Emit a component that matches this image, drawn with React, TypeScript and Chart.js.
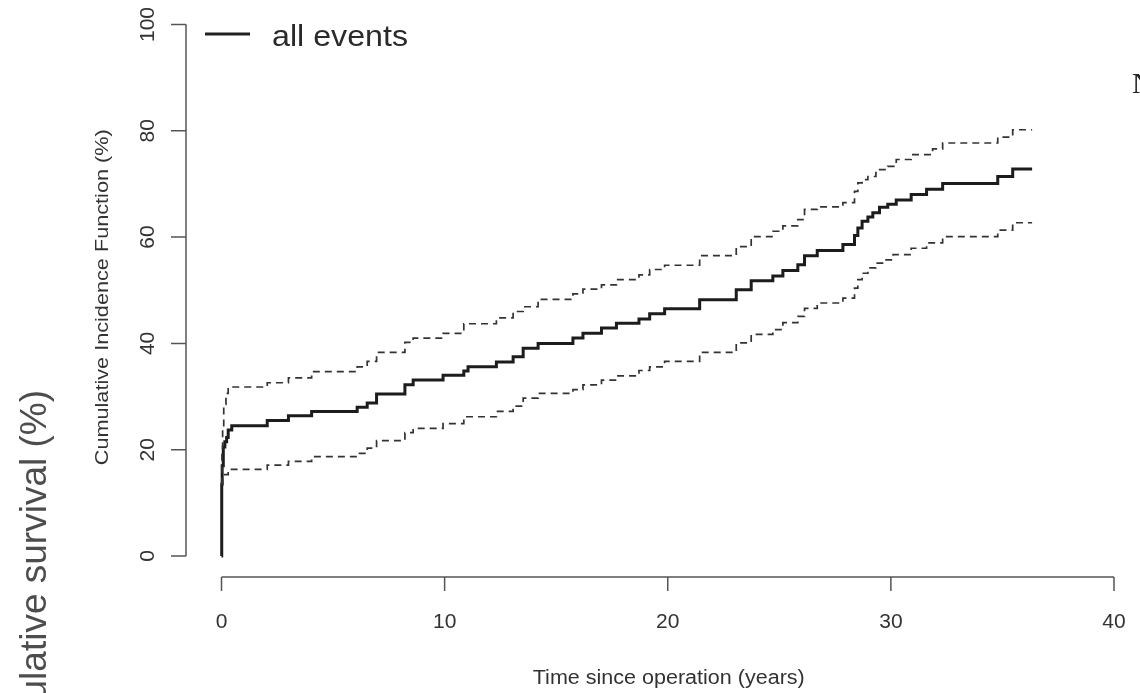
import React, { useEffect, useRef } from "react";
import { Chart, registerables } from "chart.js";

Chart.register(...registerables);

// ---- data ----
const MAIN_T = [0, 0.01, 0.03, 0.08, 0.15, 0.23, 0.3, 0.46, 2.05, 3.0, 4.04, 6.08, 6.53, 6.95, 8.22, 8.59, 9.93, 10.86, 11.05, 12.32, 13.07, 13.52, 14.19, 15.75, 16.2, 17.03, 17.7, 18.71, 19.19, 19.86, 21.43, 23.07, 23.74, 24.71, 25.16, 25.83, 26.13, 26.7, 27.85, 28.37, 28.52, 28.71, 28.97, 29.19, 29.49, 29.86, 30.24, 30.91, 31.6, 32.32, 34.79, 35.46, 36.33];
const MAIN_V = [0, 13.5, 17, 20.5, 21.5, 22.3, 23.7, 24.5, 25.5, 26.4, 27.2, 28.0, 28.8, 30.5, 32.2, 33.1, 34.0, 34.8, 35.6, 36.5, 37.5, 39.1, 40.0, 41.0, 41.9, 42.9, 43.8, 44.6, 45.6, 46.5, 48.2, 50.1, 51.8, 52.7, 53.7, 54.8, 56.5, 57.5, 58.6, 60.3, 61.7, 63.0, 63.8, 64.6, 65.6, 66.2, 67.0, 68.0, 69.0, 70.1, 71.4, 72.8, 72.8];

const UPPER_T = [0, 0.02, 0.05, 0.1, 0.2, 0.3, 2.05, 3.0, 4.04, 6.08, 6.53, 6.95, 8.22, 8.59, 9.93, 10.86, 12.32, 13.07, 13.52, 14.19, 15.75, 16.2, 17.03, 17.7, 18.71, 19.19, 19.86, 21.43, 23.07, 23.74, 24.71, 25.16, 25.83, 26.13, 26.7, 27.85, 28.37, 28.52, 28.71, 28.97, 29.33, 29.86, 30.24, 30.91, 31.87, 32.32, 34.79, 35.46, 36.33];
const UPPER_V = [13.5, 20, 24, 28.5, 30.6, 31.8, 32.6, 33.5, 34.7, 35.6, 36.6, 38.3, 40.2, 41.0, 41.9, 43.7, 44.8, 46.0, 46.9, 48.3, 49.3, 50.2, 51.0, 52.0, 52.9, 53.9, 54.7, 56.5, 58.2, 60.1, 61.1, 62.1, 63.3, 65.2, 65.7, 66.5, 68.6, 70.2, 70.8, 71.4, 72.7, 73.3, 74.6, 75.5, 76.6, 77.7, 78.8, 80.2, 80.2];

const LOWER_T = [0, 0.05, 0.15, 0.3, 2.05, 3.0, 4.04, 6.08, 6.53, 6.95, 8.22, 8.59, 9.93, 10.86, 12.32, 13.07, 13.52, 14.19, 15.75, 16.2, 17.03, 17.7, 18.71, 19.19, 19.86, 21.43, 23.07, 23.74, 24.71, 25.16, 25.83, 26.13, 26.7, 27.85, 28.37, 28.52, 28.71, 28.97, 29.33, 29.7, 30.1, 30.91, 31.6, 32.32, 34.79, 35.46, 36.33];
const LOWER_V = [13.5, 14.5, 15.3, 16.3, 17.1, 17.8, 18.7, 19.3, 20.3, 21.7, 23.2, 24.0, 24.9, 26.2, 27.2, 28.2, 29.7, 30.6, 31.3, 32.2, 33.1, 33.9, 34.9, 35.6, 36.6, 38.3, 40.1, 41.7, 42.6, 43.9, 45.1, 46.6, 47.6, 48.5, 50.4, 52.0, 53.2, 54.2, 55.1, 55.7, 56.7, 57.9, 58.9, 60.1, 61.3, 62.7, 62.7];

const X_TICKS = [0, 10, 20, 30, 40];
const Y_TICKS = [0, 20, 40, 60, 80, 100];
const X_TITLE = "Time since operation (years)";
const Y_TITLE = "Cumulative Incidence Function (%)";
const LEGEND_LABEL = "all events";
const SIDE_TITLE = "Cumulative survival (%)";
const CORNER_TEXT = "N";

const FONT = '"Liberation Sans", Arial, sans-serif';
const SERIF = '"Liberation Serif", "DejaVu Serif", serif';

function toPoints(t: number[], v: number[]) {
  return t.map((x, i) => ({ x, y: v[i] }));
}

function drawText(
  ctx: CanvasRenderingContext2D,
  text: string,
  x: number,
  y: number,
  font: string,
  color: string,
  opts: { rot?: number; align?: CanvasTextAlign; width?: number } = {}
) {
  ctx.save();
  ctx.font = font;
  ctx.fillStyle = color;
  ctx.translate(x, y);
  if (opts.rot) ctx.rotate(opts.rot);
  if (opts.width) {
    const w = ctx.measureText(text).width;
    ctx.scale(opts.width / w, 1);
  }
  ctx.textAlign = opts.align || "center";
  ctx.textBaseline = "alphabetic";
  ctx.fillText(text, 0, 0);
  ctx.restore();
}

const rStylePlugin = {
  id: "rStyle",
  beforeDraw(chart: any) {
    const ctx = chart.ctx;
    ctx.save();
    ctx.fillStyle = "#ffffff";
    ctx.fillRect(0, 0, chart.width, chart.height);
    ctx.restore();
  },
  afterDraw(chart: any) {
    const ctx: CanvasRenderingContext2D = chart.ctx;
    const xs = chart.scales.x;
    const ys = chart.scales.y;
    const yAxisX = xs.getPixelForValue(0) - 35.5;
    const xAxisY = ys.getPixelForValue(0) + 21;

    ctx.save();
    ctx.strokeStyle = "#555555";
    ctx.lineWidth = 1.5;
    ctx.beginPath();
    // y axis
    ctx.moveTo(yAxisX, ys.getPixelForValue(Y_TICKS[0]));
    ctx.lineTo(yAxisX, ys.getPixelForValue(Y_TICKS[Y_TICKS.length - 1]));
    Y_TICKS.forEach((v) => {
      const py = ys.getPixelForValue(v);
      ctx.moveTo(yAxisX, py);
      ctx.lineTo(yAxisX - 15, py);
    });
    // x axis
    ctx.moveTo(xs.getPixelForValue(X_TICKS[0]), xAxisY);
    ctx.lineTo(xs.getPixelForValue(X_TICKS[X_TICKS.length - 1]), xAxisY);
    X_TICKS.forEach((v) => {
      const px = xs.getPixelForValue(v);
      ctx.moveTo(px, xAxisY);
      ctx.lineTo(px, xAxisY + 14);
    });
    ctx.stroke();
    ctx.restore();

    const tickFont = `21px ${FONT}`;
    Y_TICKS.forEach((v) => {
      drawText(ctx, String(v), yAxisX - 32, ys.getPixelForValue(v), tickFont, "#333333", { rot: -Math.PI / 2 });
    });
    X_TICKS.forEach((v) => {
      drawText(ctx, String(v), xs.getPixelForValue(v), xAxisY + 51, tickFont, "#333333");
    });

    // axis titles
    const xMid = (xs.getPixelForValue(X_TICKS[0]) + xs.getPixelForValue(X_TICKS[X_TICKS.length - 1])) / 2;
    drawText(ctx, X_TITLE, xMid + 1, xAxisY + 107, `20px ${FONT}`, "#333333", { width: 272 });
    const yMid = (ys.getPixelForValue(Y_TICKS[0]) + ys.getPixelForValue(Y_TICKS[Y_TICKS.length - 1])) / 2;
    drawText(ctx, Y_TITLE, yAxisX - 78, yMid + 7, `19px ${FONT}`, "#333333", { rot: -Math.PI / 2, width: 336 });

    // legend
    ctx.save();
    ctx.strokeStyle = "#222222";
    ctx.lineWidth = 3;
    ctx.beginPath();
    ctx.moveTo(205, 34);
    ctx.lineTo(250, 34);
    ctx.stroke();
    ctx.restore();
    drawText(ctx, LEGEND_LABEL, 272, 46, `30px ${FONT}`, "#2a2a2a", { align: "left", width: 136 });

    // cropped surrounding text
    drawText(ctx, SIDE_TITLE, 46, 390, `37px ${FONT}`, "#4d4d4d", { rot: -Math.PI / 2, align: "right" });
    drawText(ctx, CORNER_TEXT, 1132, 93, `30px ${SERIF}`, "#222222", { align: "left" });
  },
};

export default function App() {
  const canvasRef = useRef<HTMLCanvasElement | null>(null);

  useEffect(() => {
    const canvas = canvasRef.current;
    if (!canvas) return;
    const chart = new Chart(canvas, {
      type: "line",
      data: {
        datasets: [
          {
            label: "upper",
            data: toPoints(UPPER_T, UPPER_V),
            stepped: "before",
            borderColor: "#333333",
            borderWidth: 1.7,
            borderDash: [7, 5],
            pointRadius: 0,
            fill: false,
            clip: false as any,
          },
          {
            label: "lower",
            data: toPoints(LOWER_T, LOWER_V),
            stepped: "before",
            borderColor: "#333333",
            borderWidth: 1.7,
            borderDash: [7, 5],
            pointRadius: 0,
            fill: false,
            clip: false as any,
          },
          {
            label: LEGEND_LABEL,
            data: toPoints(MAIN_T, MAIN_V),
            stepped: "before",
            borderColor: "#1c1c1c",
            borderWidth: 3,
            pointRadius: 0,
            fill: false,
            clip: false as any,
          },
        ],
      },
      options: {
        responsive: false,
        animation: false,
        events: [],
        layout: { padding: { left: 221.5, right: 26, top: 24.5, bottom: 137 } },
        scales: {
          x: { type: "linear", min: 0, max: 40, display: false },
          y: { type: "linear", min: 0, max: 100, display: false },
        },
        plugins: {
          legend: { display: false },
          tooltip: { enabled: false },
        },
      },
      plugins: [rStylePlugin],
    });
    return () => chart.destroy();
  }, []);

  return (
    <div style={{ position: "fixed", left: 0, top: 0, width: 1140, height: 693, overflow: "hidden", background: "#fff" }}>
      <canvas ref={canvasRef} width={1140} height={693} style={{ display: "block" }} />
    </div>
  );
}
